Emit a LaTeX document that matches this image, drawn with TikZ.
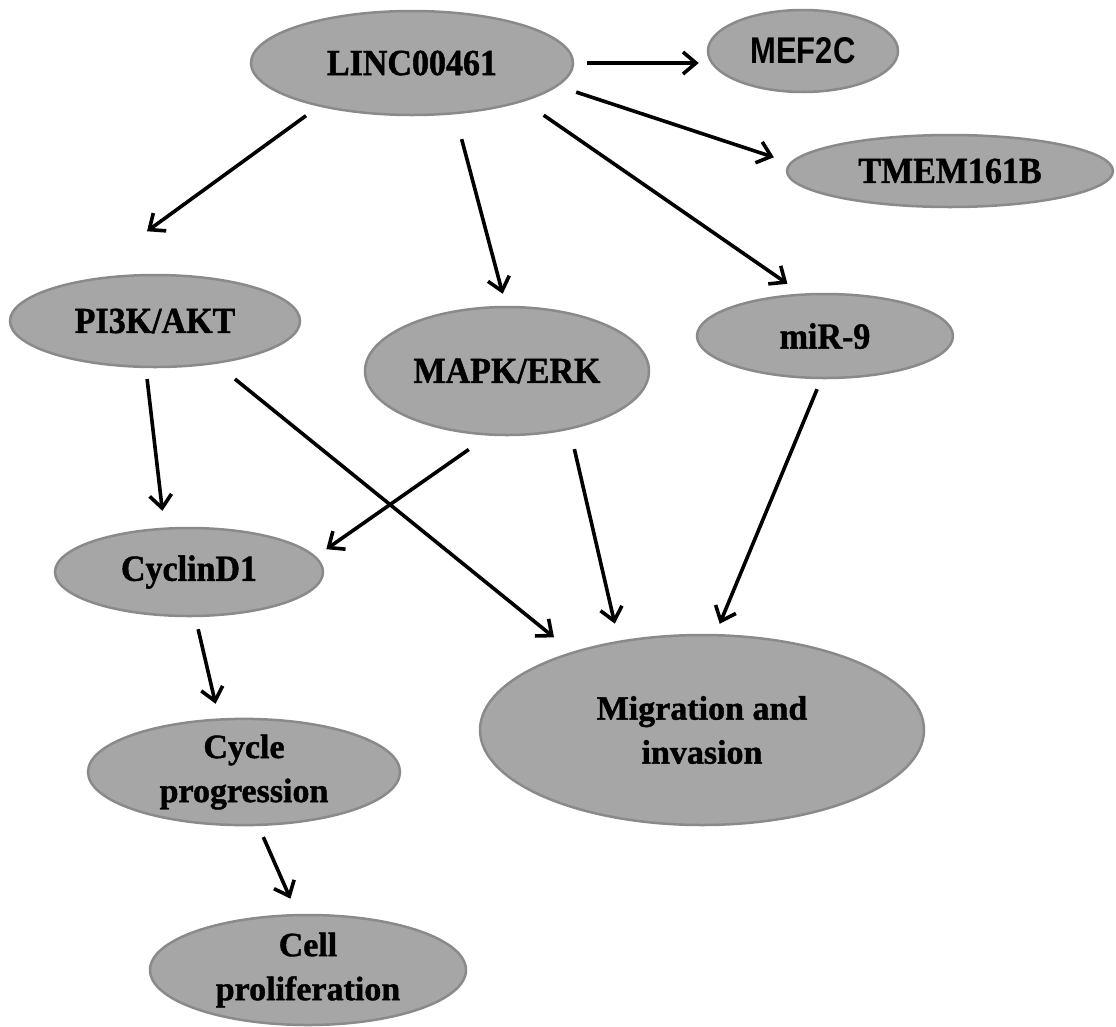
\documentclass[tikz,border=0pt]{standalone}
\usepackage{fontspec}
\usepackage{graphicx}
\setmainfont{Liberation Serif}[BoldFeatures={FakeBold=1.2}]
\newfontfamily\arialfont{Liberation Sans}
\usetikzlibrary{shapes.geometric,arrows.meta}
\definecolor{nodefill}{HTML}{A6A6A6}
\definecolor{nodeborder}{HTML}{8A8A8A}
\begin{document}
\begin{tikzpicture}[x=1pt,y=-1pt,
  bub/.style={ellipse, draw=nodeborder, line width=2.5pt, fill=nodefill, inner sep=0pt, align=center,
              font=\fontsize{34}{44}\selectfont\bfseries},
  arr/.style={line width=3.6pt, -{Straight Barb[length=13pt,width=22pt]}}]
\useasboundingbox (0,0) rectangle (1116,1026);
% nodes
\node[bub, minimum width=322pt, minimum height=104pt] (linc) at (412,63) {\scalebox{1}[1.08]{LINC00461}};
\node[bub, minimum width=190pt, minimum height=82pt, font=\fontsize{31}{38}\selectfont\arialfont\bfseries] (mef) at (803,51) {\scalebox{1}[1.2]{MEF2C}};
\node[bub, minimum width=326pt, minimum height=72pt] (tmem) at (950,171) {\scalebox{1}[1.08]{TMEM161B}};
\node[bub, minimum width=290pt, minimum height=92pt] (pik) at (155,321) {\scalebox{1}[1.08]{PI3K/AKT}};
\node[bub, minimum width=284pt, minimum height=128pt] (mapk) at (507,371) {\scalebox{1}[1.08]{MAPK/ERK}};
\node[bub, minimum width=256pt, minimum height=84pt] (mir) at (825,336) {\scalebox{1}[1.08]{miR-9}};
\node[bub, minimum width=268pt, minimum height=88pt] (cyc) at (189,572) {\scalebox{1}[1.08]{CyclinD1}};
\node[bub, minimum width=444pt, minimum height=190pt] (mig) at (702,730) {Migration and\\invasion};
\node[bub, minimum width=312pt, minimum height=104pt] (prog) at (244,772) {Cycle\\progression};
\node[bub, minimum width=316pt, minimum height=110pt] (cell) at (308,970) {Cell\\proliferation};
% connectors
\draw[arr, shorten <=13pt, shorten >=8pt] (linc.east) -- (linc.east -| mef.west);
\draw[arr, shorten <=19pt, shorten >=17pt] (linc.-9.6) -- (tmem.177.1);
\draw[arr, shorten <=15.6pt, shorten >=84pt] (linc.205.1) -- (pik.152.3);
\draw[arr, shorten <=25.7pt, shorten >=12.4pt] (linc.-50.5) -- (mapk.91.6);
\draw[arr, shorten <=24pt, shorten >=17pt] (linc.-19.6) -- (mir.119);
\draw[arr, shorten <=11pt, shorten >=16.8pt] (pik.259.9) -- (cyc.119.1);
\draw[arr, shorten <=24pt, shorten >=23pt] (pik.-35.8) -- (mig.149);
\draw[arr, shorten <=24pt, shorten >=12.6pt] (mapk.254.8) -- (cyc.7.8);
\draw[arr, shorten <=20pt, shorten >=17.5pt] (mapk.-43.3) -- (mig.133.6);
\draw[arr, shorten <=10.8pt, shorten >=11pt] (mir.265.9) -- (mig.82.3);
\draw[arr, shorten <=12.3pt, shorten >=15pt] (cyc.-82) -- (prog.115.6);
\draw[arr, shorten <=12pt, shorten >=16.6pt] (prog.-75.7) -- (cell.101.8);
\end{tikzpicture}
\end{document}
